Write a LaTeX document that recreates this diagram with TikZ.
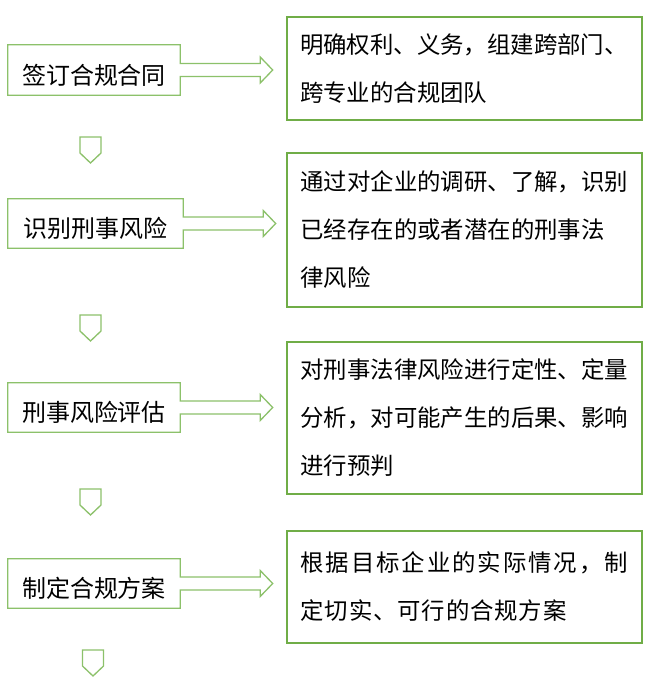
\documentclass[tikz,border=0pt]{standalone}
\usepackage{fontspec}
\setmainfont{Noto Sans CJK SC}
\usetikzlibrary{calc}
\definecolor{rgreen}{RGB}{112,173,71}
\definecolor{lgreen}{RGB}{140,193,106}
\newcommand\myfatarrow[1]{%
  \draw[lline] (#1.north west) -- (#1.north east) -- ($(#1.east)+(0,-6.5)$)
    -- ($(#1.east)+(80,-6.5)$) -- ($(#1.east)+(80,-13)$) -- ($(#1.east)+(92.5,0)$)
    -- ($(#1.east)+(80,13)$) -- ($(#1.east)+(80,6.5)$) -- ($(#1.east)+(0,6.5)$)
    -- (#1.south east) -- (#1.south west) -- cycle;}
\newcommand\mydownarrow[2]{%
  \draw[lline] ({#1-10.5},{#2}) -- ({#1+10.5},{#2}) -- ({#1+10.5},{#2+16})
    -- ({#1},{#2+26}) -- ({#1-10.5},{#2+16}) -- cycle;}
\begin{document}
\begin{tikzpicture}[x=1pt,y=-1pt,
  lbox/.style={minimum width=172pt,minimum height=50pt,inner sep=0pt,
    text height=28pt,text depth=0pt,font=\fontsize{24}{28}\selectfont},
  rbox/.style={draw=rgreen,line width=2pt,text width=328pt,inner xsep=13.5pt,
    inner ysep=0pt,align=left,font=\fontsize{23.4}{48}\selectfont},
  lline/.style={draw=lgreen,line width=1.3pt,line join=miter}]
\useasboundingbox[fill=white] (0,0) rectangle (660,680);

% left step boxes
\node[lbox] (l1) at (94,70) {签订合规合同};
\node[lbox,minimum width=175pt,minimum height=49pt] (l2) at (95.5,223.5) {识别刑事风险};
\node[lbox,minimum height=49pt] (l3) at (94,407.5) {刑事风险评估};
\node[lbox,minimum height=49pt] (l4) at (94,583.5) {制定合规方案};

% right description boxes
\node[rbox,minimum height=103pt] (r1) at (464,68.5)
  {明确权利、义务，组建跨部门、\\跨专业的合规团队};
\node[rbox,minimum height=154pt] (r2) at (464.5,230)
  {通过对企业的调研、了解，识别\\已经存在的或者潜在的刑事法\\律风险};
\node[rbox,minimum height=152pt] (r3) at (464.5,418)
  {对刑事法律风险进行定性、定量\\分析，对可能产生的后果、影响\\进行预判};
\node[rbox,minimum height=112pt] (r4) at (464.5,587)
  {\hbox to 327.6pt{根\hfil 据\hfil 目\hfil 标\hfil 企\hfil 业\hfil 的\hfil 实\hfil 际\hfil 情\hfil 况\hfil ，\hfil 制}\\
   \hbox to 266pt{定\hfil 切\hfil 实\hfil 、\hfil 可\hfil 行\hfil 的\hfil 合\hfil 规\hfil 方\hfil 案}};

% box-arrow outlines
\myfatarrow{l1}
\myfatarrow{l2}
\myfatarrow{l3}
\myfatarrow{l4}

% down arrows
\mydownarrow{90.5}{137}
\mydownarrow{90.5}{315}
\mydownarrow{90.5}{489}
\mydownarrow{93}{650}
\end{tikzpicture}
\end{document}
